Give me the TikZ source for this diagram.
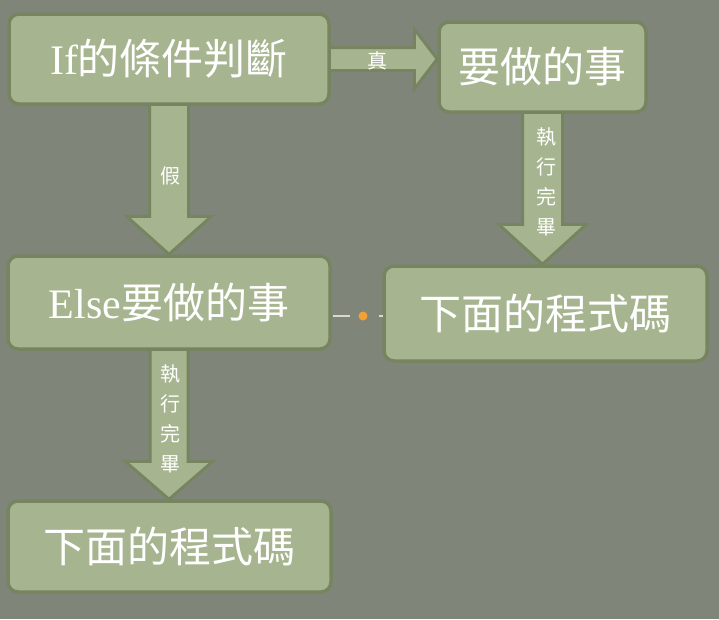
\documentclass[tikz,border=0pt]{standalone}
\usepackage{fontspec}
\setmainfont{Liberation Serif}
\newfontfamily\cjk{Noto Sans CJK TC}
\usetikzlibrary{calc}
\pgfdeclarelayer{back}
\pgfdeclarelayer{arrows}
\pgfsetlayers{back,arrows,main}
\definecolor{bg}{HTML}{80857A}
\definecolor{boxfill}{HTML}{A6B58F}
\definecolor{boxedge}{HTML}{76855F}
\definecolor{dotc}{HTML}{F5A033}
\definecolor{linec}{HTML}{D8DAD2}
\newcommand\BlkDown[5]{%
  \draw[blockarrow] let \p1=(#1.south), \p2=(#2.north) in
  (\x1-#3pt,\y1+3pt) -- (\x1-#3pt,\y2+#5pt) -- (\x1-#4pt,\y2+#5pt) -- (\x1,\y2) --
  (\x1+#4pt,\y2+#5pt) -- (\x1+#3pt,\y2+#5pt) -- (\x1+#3pt,\y1+3pt);}
\begin{document}
\begin{tikzpicture}[x=1pt,y=-1pt,
  box/.style={draw=boxedge, line width=3.5pt, fill=boxfill, rounded corners=10pt,
    inner sep=0pt, text=white, font=\fontsize{42}{42}\selectfont},
  blockarrow/.style={draw=boxedge, line width=3pt, fill=boxfill, line join=miter},
  lab/.style={text=white, font=\cjk\fontsize{20}{30}\selectfont, align=center, inner sep=0pt},
  conn/.style={draw=linec, line width=1.2pt},
  dot/.style={circle, fill=dotc, inner sep=0pt, minimum size=9pt}]
\begin{pgfonlayer}{back}
\fill[bg] (0,0) rectangle (719,619);
\end{pgfonlayer}
\useasboundingbox (0,0) rectangle (719,619);

\node[box, minimum width=320pt, minimum height=90pt] (if) at (169,59) {If{\cjk 的條件判斷}};
\node[box, minimum width=207pt, minimum height=90pt] (todo) at (542.5,67) {\cjk 要做的事};
\node[box, minimum width=322pt, minimum height=93pt] (else) at (169,302.5) {Else{\cjk 要做的事}};
\node[box, minimum width=323pt, minimum height=95pt] (next1) at (545.5,313.5) {\cjk 下面的程式碼};
\node[box, minimum width=323pt, minimum height=91pt] (next2) at (169.5,546.5) {\cjk 下面的程式碼};

\begin{pgfonlayer}{arrows}
\draw[blockarrow] let \p1=(if.east), \p2=(todo.west) in
  (\x1-3pt,\y1+11.5pt) -- (\x2-23pt,\y1+11.5pt) -- (\x2-23pt,\y1+30pt) -- (\x2,\y1) --
  (\x2-23pt,\y1-30pt) -- (\x2-23pt,\y1-11.5pt) -- (\x1-3pt,\y1-11.5pt);
\BlkDown{if}{else}{19.5}{42.5}{38}
\BlkDown{todo}{next1}{20}{44}{40}
\BlkDown{else}{next2}{19}{44}{38}
\end{pgfonlayer}

\node[lab] (t) at (377,61) {真};
\node[lab] (f) at (170,176) {假};
\node[lab] (d1) at (546,182) {執\\行\\完\\畢};
\node[lab] (d2) at (170,419) {執\\行\\完\\畢};

\coordinate (c1) at (333,316);
\coordinate (c2) at (350,316);
\coordinate (c3) at (379,316);
\coordinate (c4) at (383,316);
\node[dot] (dt) at (363,316) {};
\draw[conn] (c1) -- (c2);
\draw[conn] (c3) -- (c4);
\end{tikzpicture}
\end{document}
